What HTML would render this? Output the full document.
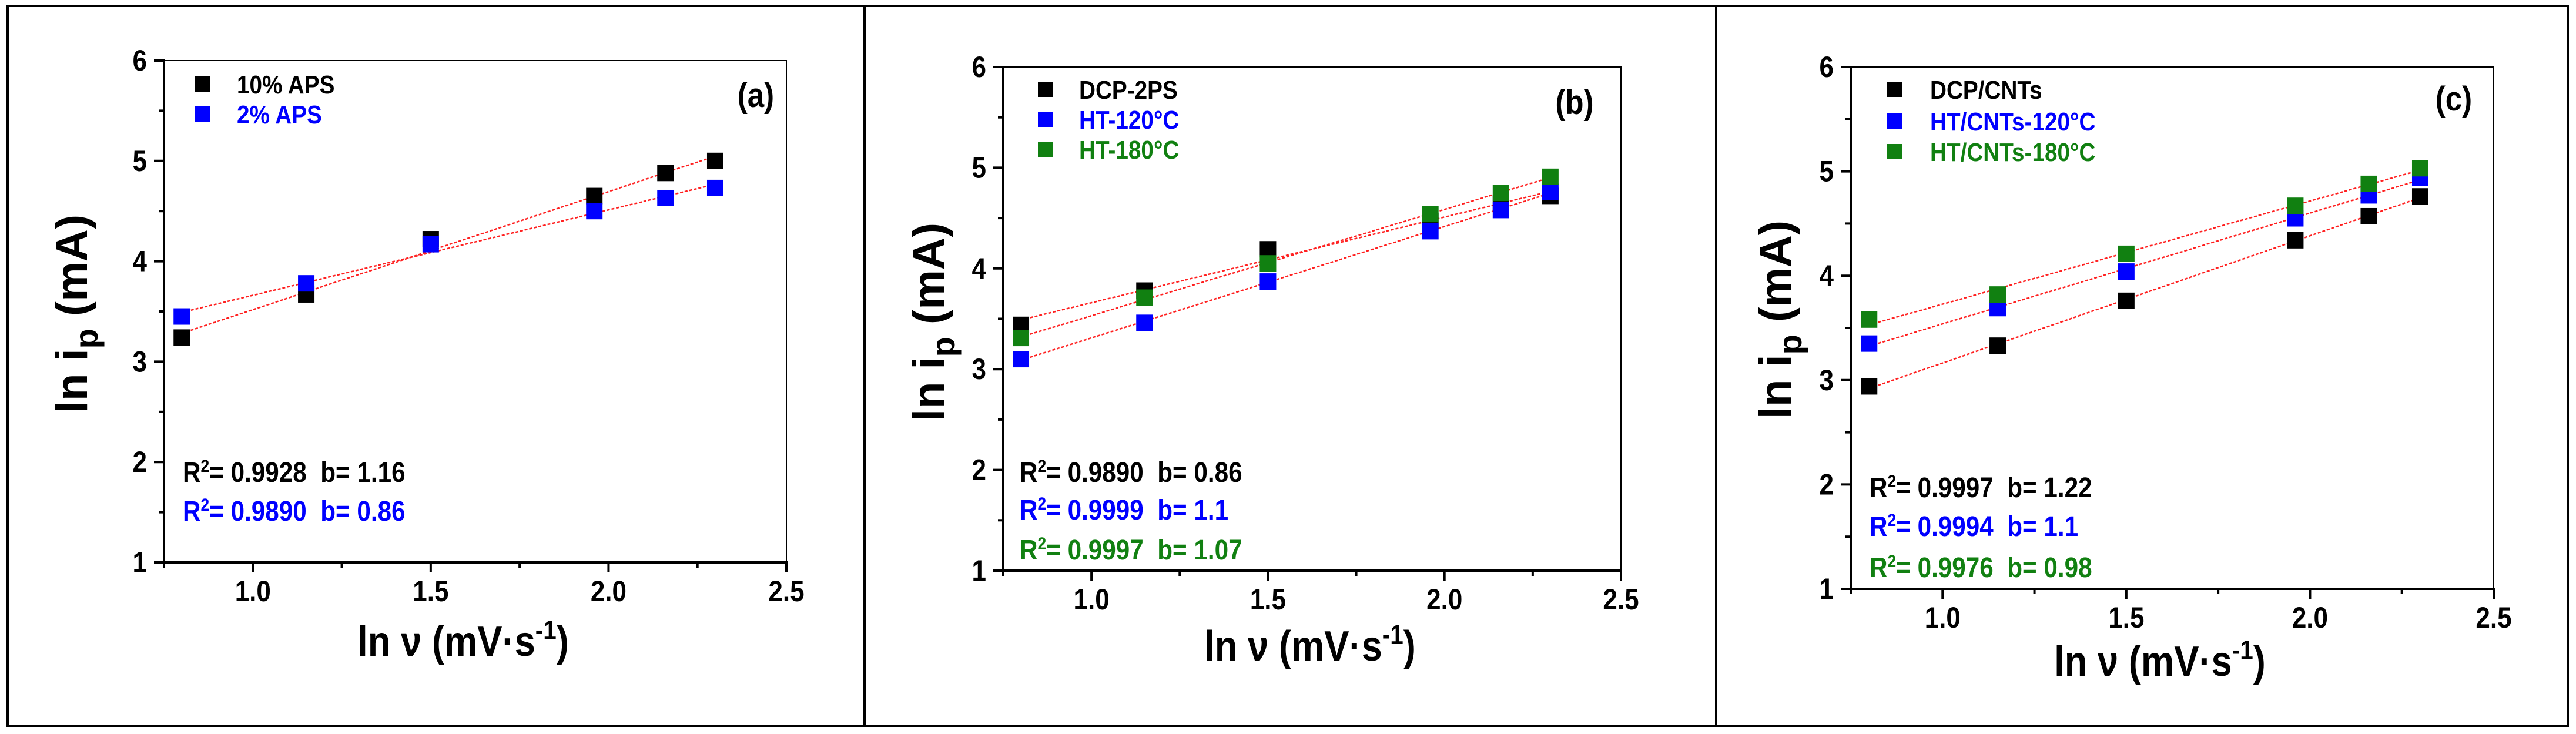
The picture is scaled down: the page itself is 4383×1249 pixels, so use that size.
<!DOCTYPE html>
<html><head><meta charset="utf-8">
<style>
html,body{margin:0;padding:0;background:#fff;}
svg{display:block;}
text{font-family:"Liberation Sans Narrow","Liberation Sans",Arial,sans-serif;font-weight:bold;}
</style></head>
<body>
<svg id="fig" width="4383" height="1249" viewBox="0 0 4383 1249" xmlns="http://www.w3.org/2000/svg">
<rect x="13" y="10" width="4356" height="1225" fill="none" stroke="#000" stroke-width="4"/>
<line x1="1471" y1="10" x2="1471" y2="1235" stroke="#000" stroke-width="4"/>
<line x1="2920" y1="10" x2="2920" y2="1235" stroke="#000" stroke-width="4"/>
</svg>
<script>
const xVals = [0.8, 1.15, 1.5, 1.96, 2.16, 2.3];
const aNames = ["10% APS", "2% APS"];
const aBlack = [3.24, 3.67, 4.22, 4.65, 4.88, 5.0];
const aBlue = [3.45, 3.78, 4.17, 4.5, 4.63, 4.73];
const aStats = ["0.9928\u00a0\u00a0b= 1.16", "0.9890\u00a0\u00a0b= 0.86"];
const bNames = ["DCP-2PS", "HT-120°C", "HT-180°C"];
const bBlack = [3.44, 3.78, 4.19, 4.47, 4.65, 4.72];
const bBlue = [3.10, 3.46, 3.87, 4.37, 4.58, 4.76];
const bGreen = [3.31, 3.71, 4.05, 4.54, 4.75, 4.91];
const bStats = ["0.9890\u00a0\u00a0b= 0.86", "0.9999\u00a0\u00a0b= 1.1", "0.9997\u00a0\u00a0b= 1.07"];
const cNames = ["DCP/CNTs", "HT/CNTs-120°C", "HT/CNTs-180°C"];
const cBlack = [2.94, 3.33, 3.76, 4.34, 4.57, 4.76];
const cBlue = [3.35, 3.69, 4.04, 4.55, 4.77, 4.94];
const cGreen = [3.58, 3.82, 4.21, 4.67, 4.88, 5.03];
const cStats = ["0.9997\u00a0\u00a0b= 1.22", "0.9994\u00a0\u00a0b= 1.1", "0.9976\u00a0\u00a0b= 0.98"];
const xTicks = ["1.0", "1.5", "2.0", "2.5"];
const yTicks = ["1", "2", "3", "4", "5", "6"];

const NS = "http://www.w3.org/2000/svg";
const svg = document.getElementById("fig");
const COLORS = ["#000000", "#0000ff", "#118011"];
const SQ = 0.88;
function mk(tag, attrs, parent) {
  const e = document.createElementNS(NS, tag);
  for (const k in attrs) e.setAttribute(k, attrs[k]);
  (parent || svg).appendChild(e);
  return e;
}
function narrow(el, x, y) {
  el.setAttribute("transform", `translate(${x},${y}) scale(${SQ},1) translate(${-x},${-y})`);
}

const panels = [
  {id:"a", L:279, R:1338, T:103, B:957, series:[aBlack, aBlue], names:aNames, stats:aStats,
   legX:331, legY:[143,194], legTX:403, lab:"(a)", labX:1286, labY:182,
   stX:311, stY:[820,886], xtX:788, xtY:1116, ytX:148, ytY:534},
  {id:"b", L:1707, R:2758, T:114, B:971, series:[bBlack, bBlue, bGreen], names:bNames, stats:bStats,
   legX:1766, legY:[152,203,254], legTX:1836, lab:"(b)", labX:2679, labY:194,
   stX:1735, stY:[820,884,952], xtX:2229, xtY:1124, ytX:1606, ytY:548},
  {id:"c", L:3149, R:4243, T:114, B:1002, series:[cBlack, cBlue, cGreen], names:cNames, stats:cStats,
   legX:3211, legY:[152,206,258], legTX:3284, lab:"(c)", labX:4175, labY:188,
   stX:3181, stY:[846,912,982], xtX:3675, xtY:1150, ytX:3047, ytY:544}
];

panels.forEach(p => {
  const g = mk("g", {});
  
  
  const sx = v => p.L + (v - 0.75) / 1.75 * (p.R - p.L);
  const sy = v => p.B - (v - 1) / 5 * (p.B - p.T);
  const fr = mk("rect", {x:p.L, y:p.T, width:p.R-p.L, height:p.B-p.T, fill:"none", stroke:"#000", "stroke-width":2}, g);
  
  
  const xa = mk("line", {x1:p.L-2, y1:p.B, x2:p.R+2, y2:p.B, stroke:"#000", "stroke-width":4}, g);
  
  
  const ya = mk("line", {x1:p.L, y1:p.T-2, x2:p.L, y2:p.B+2, stroke:"#000", "stroke-width":4}, g);
  
  
  for (let v = 0.75; v <= 2.501; v += 0.25) {
    const major = Math.abs((v * 2) - Math.round(v * 2)) < 1e-6;
    mk("line", {x1:sx(v), y1:p.B, x2:sx(v), y2:p.B + (major ? 17 : 9), stroke:"#000", "stroke-width":4}, g);
  }
  xTicks.forEach(t => {
    const x = sx(parseFloat(t)), y = p.B + 66;
    const tx = mk("text", {x:x, y:y, "font-size":50, "text-anchor":"middle"}, g);
    tx.textContent = t;
    narrow(tx, x, y);
    
    
  });
  for (let v = 1; v <= 6.001; v += 0.5) {
    const major = Math.abs(v - Math.round(v)) < 1e-6;
    mk("line", {x1:p.L - (major ? 17 : 9), y1:sy(v), x2:p.L, y2:sy(v), stroke:"#000", "stroke-width":4}, g);
  }
  yTicks.forEach(t => {
    const x = p.L - 29, y = sy(parseFloat(t)) + 17;
    const ty = mk("text", {x:x, y:y, "font-size":50, "text-anchor":"end"}, g);
    ty.textContent = t;
    narrow(ty, x, y);
    
    
  });
  p.series.forEach((ys, i) => {
    const n = xVals.length;
    const mx = xVals.reduce((a,b)=>a+b,0)/n, my = ys.reduce((a,b)=>a+b,0)/n;
    let num=0, den=0;
    for (let k=0;k<n;k++){num+=(xVals[k]-mx)*(ys[k]-my);den+=(xVals[k]-mx)**2;}
    const m = num/den, b0 = my - m*mx;
    const fl = mk("line", {x1:sx(0.8), y1:sy(m*0.8+b0), x2:sx(2.3), y2:sy(m*2.3+b0), stroke:"#ff2020", "stroke-width":2.5, "stroke-dasharray":"5,3"}, g);
    
    
  });
  p.series.forEach((ys, i) => {
    ys.forEach((v, k) => {
      const r = mk("rect", {x:sx(xVals[k])-14, y:sy(v)-14, width:28, height:28, fill:COLORS[i]}, g);
      
      
    });
  });
  p.names.forEach((nm, i) => {
    const sq = mk("rect", {x:p.legX, y:p.legY[i]-13, width:26, height:26, fill:COLORS[i]}, g);
    
    
    const lt = mk("text", {x:p.legTX, y:p.legY[i]+16, "font-size":44, fill:COLORS[i]}, g);
    lt.textContent = nm;
    narrow(lt, p.legTX, p.legY[i]+16);
    
    
  });
  const lb = mk("text", {x:p.labX, y:p.labY, "font-size":58, "text-anchor":"middle"}, g);
  lb.textContent = p.lab;
  narrow(lb, p.labX, p.labY);
  
  
  p.stats.forEach((s, i) => {
    const st = mk("text", {x:p.stX, y:p.stY[i], "font-size":48, fill:COLORS[i]}, g);
    narrow(st, p.stX, p.stY[i]);
    
    
    const t1 = mk("tspan", {}, st); t1.textContent = "R";
    const t2 = mk("tspan", {dy:-17, "font-size":30}, st); t2.textContent = "2";
    const t3 = mk("tspan", {dy:17}, st); t3.textContent = "= " + s;
  });
  const xt = mk("text", {x:p.xtX, y:p.xtY, "font-size":72, "text-anchor":"middle"}, g);
  narrow(xt, p.xtX, p.xtY);
  
  
  const a1 = mk("tspan", {}, xt); a1.textContent = "ln ν (mV·s";
  const a2 = mk("tspan", {dy:-28, "font-size":46}, xt); a2.textContent = "-1";
  const a3 = mk("tspan", {dy:28}, xt); a3.textContent = ")";
  const yt = mk("text", {x:0, y:0, "font-size":76, "text-anchor":"middle", transform:`translate(${p.ytX},${p.ytY}) rotate(-90)`}, g);
  
  
  const b1 = mk("tspan", {}, yt); b1.textContent = "ln i";
  const b2 = mk("tspan", {dy:18, "font-size":56}, yt); b2.textContent = "p";
  const b3 = mk("tspan", {dy:-18}, yt); b3.textContent = " (mA)";
});
</script>
</body></html>
